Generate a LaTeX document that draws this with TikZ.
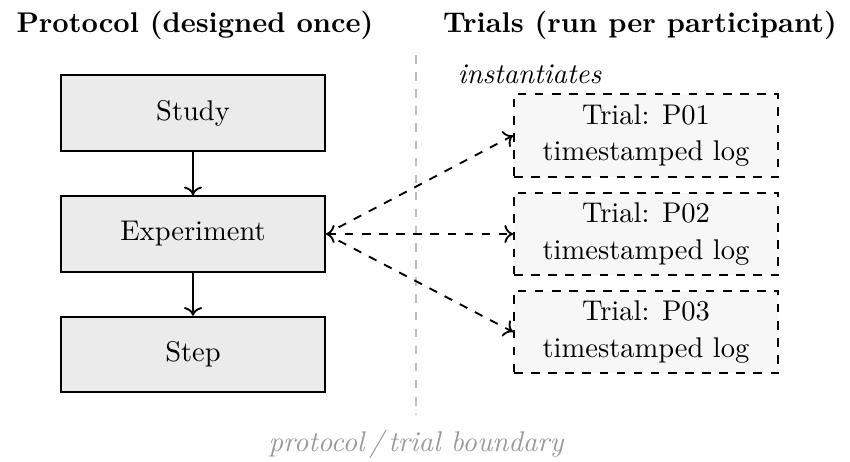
\documentclass[tikz,border=0pt]{standalone}
\usetikzlibrary{arrows.meta}

\definecolor{protfill}{gray}{0.92}
\definecolor{trialfill}{gray}{0.97}
\definecolor{boundgray}{gray}{0.74}
\definecolor{labelgray}{gray}{0.6}

\tikzset{
  protbox/.style={draw=black, line width=0.7pt, fill=protfill,
    minimum width=92.6pt, minimum height=26.5pt, inner sep=0pt},
  trialbox/.style={draw=black, line width=0.7pt, dashed, fill=trialfill, align=center,
    minimum width=92.6pt, minimum height=29.1pt, inner sep=0pt},
  flow/.style={->, line width=0.65pt},
  link/.style={<->, line width=0.65pt, dashed},
  sidelink/.style={->, line width=0.65pt, dashed, shorten <=5pt},
  boundary/.style={draw=boundgray, semithick, dashed},
  heading/.style={font=\bfseries, anchor=base},
}

\begin{document}
\begin{tikzpicture}[x=0.35088pt, y=-0.35088pt]
  \path[use as bounding box] (0,0) rectangle (850,461);

  % column headings
  \node[heading] (ptitle) at (195,32) {Protocol (designed once)};
  \node[heading] (ttitle) at (640,32) {Trials (run per participant)};

  % protocol hierarchy
  \node[protbox] (study) at (193,113) {Study};
  \node[protbox] (exp)   at (193,234) {Experiment};
  \node[protbox] (step)  at (193,354.5) {Step};
  \draw[flow] (study) -- (exp);
  \draw[flow] (exp) -- (step);

  % boundary between protocol and trials
  \coordinate (btop) at (416,55);
  \coordinate (bbot) at (416,415);
  \draw[boundary] (btop) -- (bbot);
  \node[font=\itshape, text=labelgray, anchor=base] (blabel) at (416,451)
    {protocol\,/\,trial boundary};

  % per-participant trials
  \node[font=\itshape, anchor=base] (inst) at (529.5,83) {instantiates};
  \node[trialbox] (p1) at (646,135.5) {Trial: P01\\[0.7pt]timestamped log};
  \node[trialbox] (p2) at (646,234)   {Trial: P02\\[0.7pt]timestamped log};
  \node[trialbox] (p3) at (646,332)   {Trial: P03\\[0.7pt]timestamped log};

  \draw[sidelink] (exp.east) -- (p1.west);
  \draw[link]     (exp.east) -- (p2.west);
  \draw[sidelink] (exp.east) -- (p3.west);
\end{tikzpicture}
\end{document}
